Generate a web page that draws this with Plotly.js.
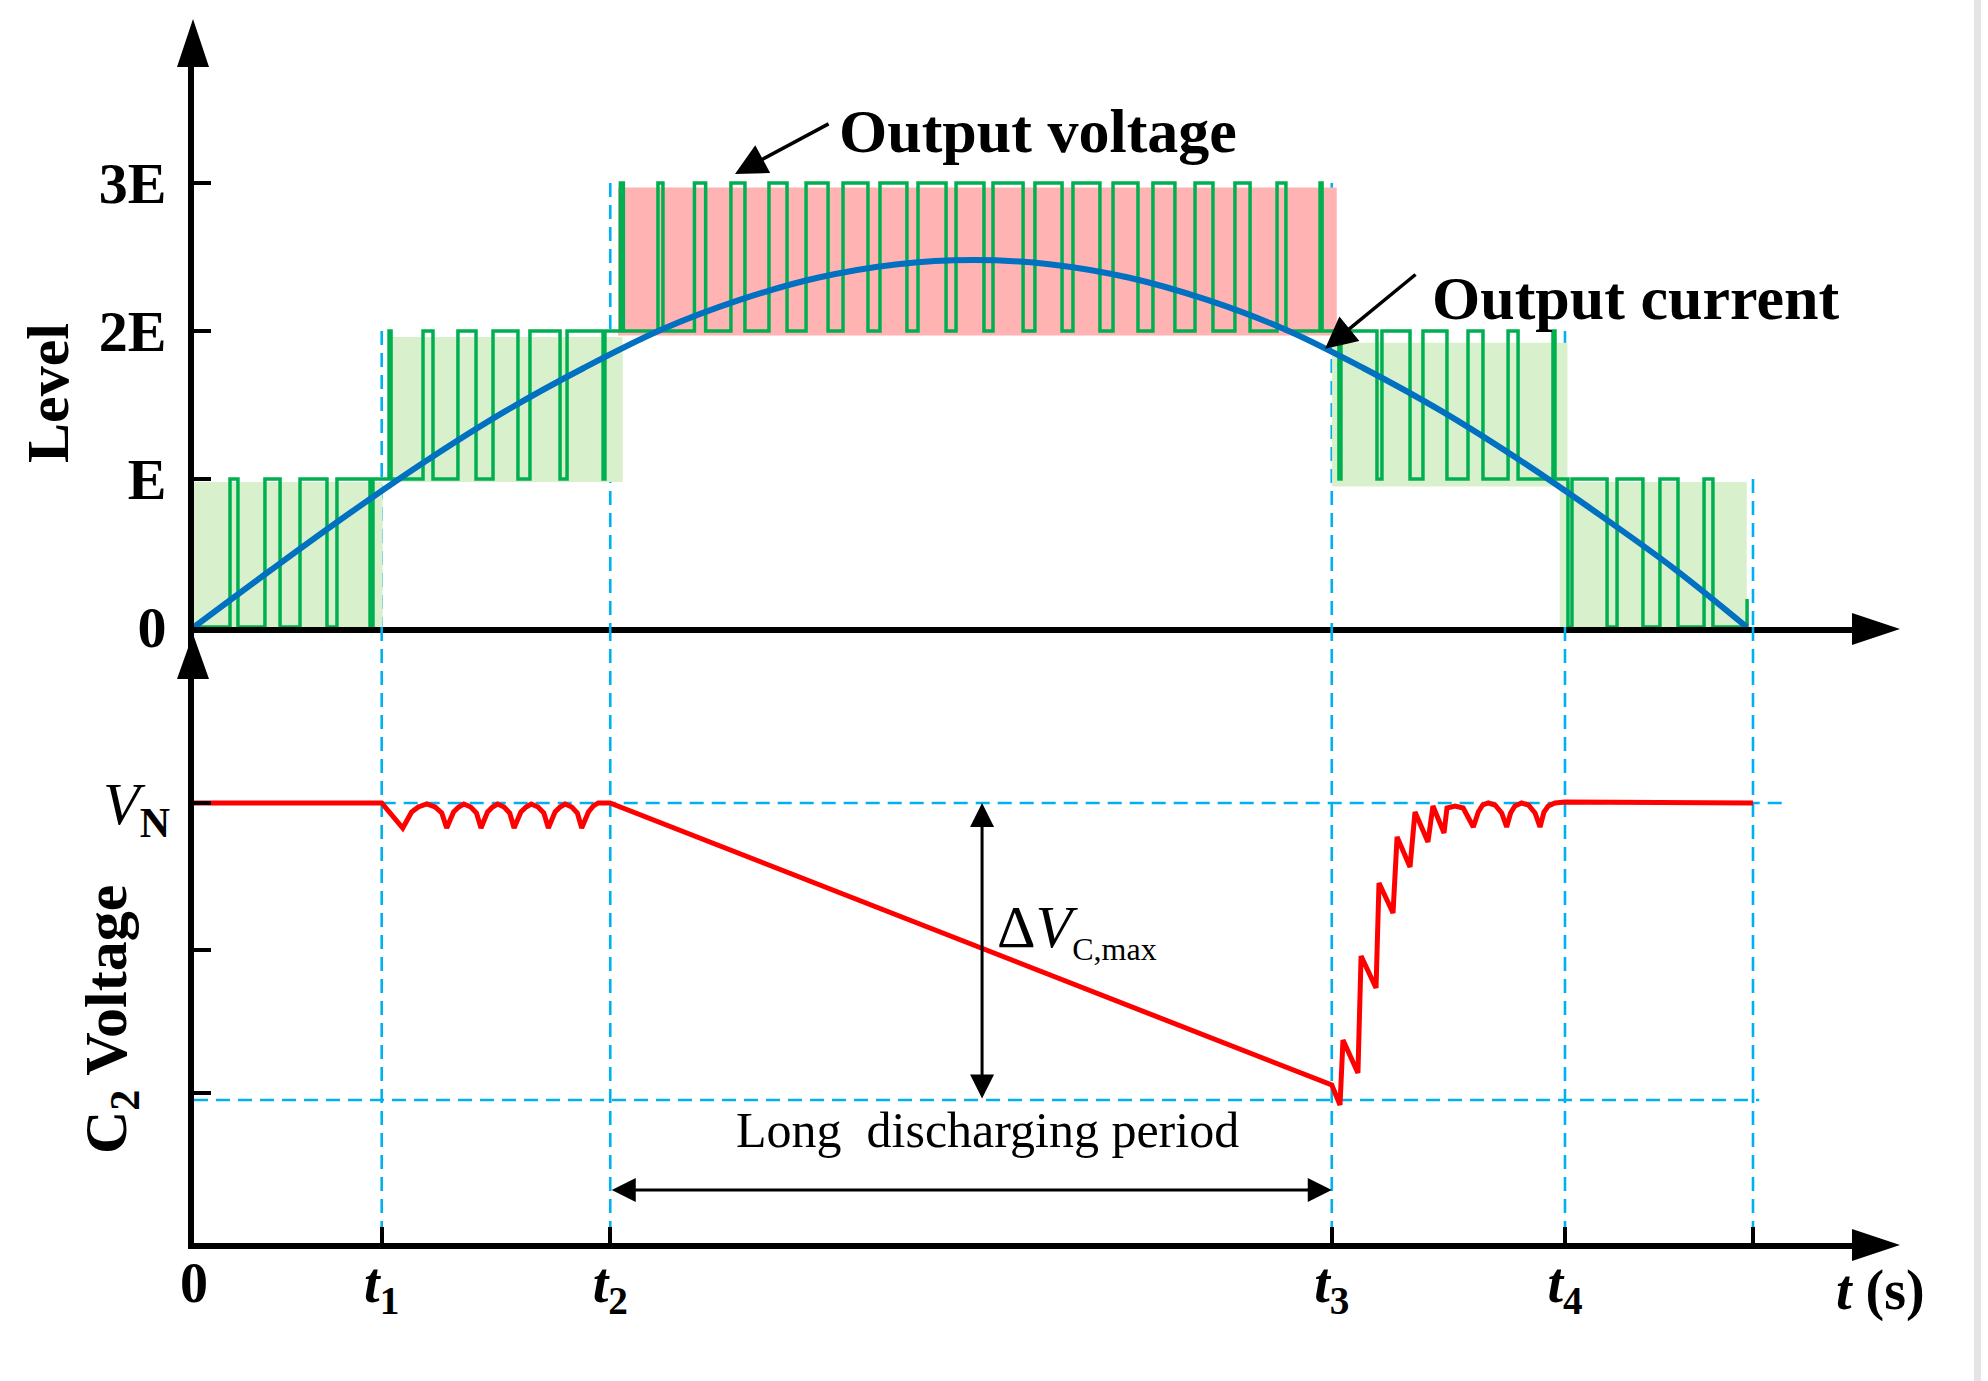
<!DOCTYPE html>
<html>
<head>
<meta charset="utf-8">
<script src="https://cdn.plot.ly/plotly-3.0.1.min.js"></script>
<style>
  html, body { margin: 0; padding: 0; background: #fff; }
</style>
</head>
<body>
<div id="plot"></div>
<script>
// ---- values (time in units where the half cycle ends at 10) ----
const LEVEL_TICKS = [0, 1, 2, 3];
const LEVEL_LABELS = ['0', 'E', '2E', '3E'];

const TIME_MARKS = [0, 1.204, 2.670, 7.298, 8.794, 10.0];
const TIME_LABELS = ['0', '<i>t</i><sub>1</sub>', '<i>t</i><sub>2</sub>',
                     '<i>t</i><sub>3</sub>', '<i>t</i><sub>4</sub>', ''];
// level where each dashed guide (t1..t5) starts in the upper panel
const GUIDE_TOP = [2, 3, 3, 2, 1];

// output voltage (PWM), switching instants and the level after each switch
const VOLT_T = [0, 0.231, 0.282, 0.455, 0.552, 0.680, 0.853, 0.917, 1.129, 1.148,
  1.251, 1.264, 1.469, 1.533, 1.693, 1.809, 1.918, 2.078, 2.155, 2.348, 2.393, 2.624, 2.636,
  2.735, 2.754, 2.976, 3.008, 3.210, 3.282, 3.444, 3.534, 3.688, 3.804, 3.926, 4.067,
  4.163, 4.323, 4.400, 4.573, 4.644, 4.824, 4.888, 5.067, 5.125, 5.318, 5.394, 5.568,
  5.638, 5.811, 5.895, 6.055, 6.151, 6.292, 6.421, 6.536, 6.677, 6.774, 6.947, 7.004,
  7.223, 7.236, 7.344, 7.357, 7.588, 7.620, 7.800, 7.883, 8.037, 8.172, 8.268, 8.429,
  8.493, 8.717, 8.730, 8.813, 8.839, 9.064, 9.128, 9.294, 9.403, 9.519, 9.686, 9.743, 9.962];
const VOLT_LEVEL = [0, 1, 0, 1, 0, 1, 0, 1, 0, 1,
  2, 1, 2, 1, 2, 1, 2, 1, 2, 1, 2, 1, 2,
  3, 2, 3, 2, 3, 2, 3, 2, 3, 2, 3, 2,
  3, 2, 3, 2, 3, 2, 3, 2, 3, 2, 3, 2,
  3, 2, 3, 2, 3, 2, 3, 2, 3, 2, 3, 2,
  3, 2, 1, 2, 1, 2, 1, 2, 1, 2, 1, 2,
  1, 2, 1, 0, 1, 0, 1, 0, 1, 0, 1, 0, 0.19];

// shaded level bands behind the PWM waveform
const BLOCK_START = [0, 1.26, 2.72, 7.30, 8.76];
const BLOCK_END = [1.21, 2.75, 7.33, 8.81, 9.96];
const BLOCK_LOW = [0, 0.98, 1.97, 0.95, 0];
const BLOCK_HIGH = [0.98, 1.96, 2.97, 1.92, 0.98];
const BLOCK_KIND = ['green', 'green', 'red', 'green', 'green'];

// output current
const CURRENT_T = [0, 0.5, 1, 1.5, 2, 2.5, 3, 3.5, 4, 4.5, 5, 5.5, 6, 6.5, 7, 7.5, 8, 8.5, 9, 9.5, 9.96];
const CURRENT_LEVEL = [0, 0.39, 0.77, 1.13, 1.46, 1.75, 2.01, 2.21, 2.36, 2.45, 2.48,
  2.45, 2.36, 2.21, 2.01, 1.75, 1.46, 1.13, 0.77, 0.39, 0];

// C2 voltage
const CAP_T = [0, 1.204, 1.339, 1.396, 1.439, 1.493, 1.546, 1.589, 1.621, 1.665, 1.698,
  1.731, 1.775, 1.812, 1.841, 1.883, 1.915, 1.947, 1.989, 2.025, 2.053, 2.097, 2.130,
  2.163, 2.207, 2.244, 2.273, 2.316, 2.348, 2.380, 2.423, 2.459, 2.487, 2.530, 2.562,
  2.593, 2.668, 7.298, 7.351, 7.370, 7.466, 7.486, 7.582, 7.601, 7.691, 7.717, 7.800,
  7.832, 7.915, 7.947, 8.018, 8.037, 8.088, 8.141, 8.206, 8.238, 8.266, 8.302, 8.345,
  8.388, 8.420, 8.445, 8.473, 8.516, 8.559, 8.602, 8.634, 8.659, 8.687, 8.730, 8.794, 10.0];
const CAP_V = [4.40, 4.40, 4.15, 4.31, 4.36, 4.39, 4.36, 4.30, 4.15, 4.31, 4.36,
  4.39, 4.36, 4.30, 4.15, 4.31, 4.36, 4.39, 4.36, 4.30, 4.15, 4.31, 4.36,
  4.39, 4.36, 4.30, 4.15, 4.31, 4.36, 4.39, 4.36, 4.30, 4.15, 4.31, 4.37,
  4.40, 4.40, 1.58, 1.38, 2.03, 1.70, 2.87, 2.55, 3.60, 3.30, 4.06, 3.76,
  4.31, 4.01, 4.37, 4.10, 4.35, 4.37, 4.35, 4.16, 4.31, 4.38, 4.40, 4.38,
  4.30, 4.16, 4.30, 4.37, 4.40, 4.38, 4.30, 4.16, 4.31, 4.37, 4.40, 4.41, 4.40];
const CAP_TICKS = [1.50, 2.93, 4.40];
const CAP_NOMINAL = 4.40;
const CAP_MIN = 1.43;
const DELTA_AT = 5.055;       // time of the ΔV arrow
const DISCHARGE_Y = 0.53;     // height of the discharging-period arrow

// ---- page geometry ----
const W = 1988, H = 1381;
const X0_PX = 194, XEND_PX = 1860, PX_PER_T = 155.9;
const TOP_ZERO_PX = 627, TOP_END_PX = 50, PX_PER_LEVEL = 148;
const BOT_ZERO_PX = 1243, PX_PER_V = 100;

const SERIF = 'Liberation Serif, Times New Roman, serif';
const GREEN = '#00B050', BLUE = '#0070C0', RED = '#FF0000', CYAN = '#00B0F0';
const FILL = {green: '#D9F0CD', red: '#FFB3B3'};

const px = x => x / W;
const py = y => 1 - y / H;

// Filled triangle used for the axis arrow tips (pixel geometry -> paper)
function ArrowTip(tipX, tipY, dir, len, half) {
  let pts;
  if (dir === 'up') {
    pts = [[tipX, tipY], [tipX - half, tipY + len], [tipX + half, tipY + len]];
  } else {
    pts = [[tipX, tipY], [tipX - len, tipY - half], [tipX - len, tipY + half]];
  }
  return {
    type: 'path', xref: 'paper', yref: 'paper', layer: 'above',
    path: 'M' + pts.map(p => px(p[0]) + ',' + py(p[1])).join('L') + 'Z',
    fillcolor: 'black', line: {width: 0},
  };
}

function BlockTrace(i) {
  const x0 = BLOCK_START[i], x1 = BLOCK_END[i];
  const lo = BLOCK_LOW[i], hi = BLOCK_HIGH[i];
  return {
    x: [x0, x1, x1, x0, x0], y: [lo, lo, hi, hi, lo],
    xaxis: 'x', yaxis: 'y', mode: 'lines', fill: 'toself',
    fillcolor: FILL[BLOCK_KIND[i]], line: {width: 0}, hoverinfo: 'skip',
  };
}

function DashedLine(xref, yref, x0, y0, x1, y1) {
  return {
    type: 'line', xref: xref, yref: yref, x0: x0, y0: y0, x1: x1, y1: y1,
    layer: 'below', line: {color: CYAN, width: 2.6, dash: '14px,8px'},
  };
}

// Text placed on the page itself, centred on a pixel position
function PageLabel(xPx, yPx, text, font, angle) {
  return {
    xref: 'paper', yref: 'paper', x: px(xPx), y: py(yPx),
    xanchor: 'center', yanchor: 'middle', text: text, textangle: angle || 0,
    showarrow: false, font: font,
  };
}

function BuildPlot() {
  const xMax = (XEND_PX - X0_PX) / PX_PER_T;
  const topMax = (TOP_ZERO_PX - TOP_END_PX) / PX_PER_LEVEL;
  const botMax = (BOT_ZERO_PX - TOP_ZERO_PX) / PX_PER_V;

  let traces = [];
  for (let i = 0; i < BLOCK_START.length; ++i) traces.push(BlockTrace(i));

  traces.push({
    x: VOLT_T, y: VOLT_LEVEL, xaxis: 'x', yaxis: 'y', mode: 'lines',
    line: {color: GREEN, width: 3.5, shape: 'hv'}, hoverinfo: 'skip',
  });
  traces.push({
    x: CURRENT_T, y: CURRENT_LEVEL, xaxis: 'x', yaxis: 'y', mode: 'lines',
    line: {color: BLUE, width: 6, shape: 'spline'}, hoverinfo: 'skip',
  });
  traces.push({
    x: CAP_T, y: CAP_V, xaxis: 'x2', yaxis: 'y2', mode: 'lines',
    line: {color: RED, width: 5}, hoverinfo: 'skip',
  });

  // dashed guides at t1..t5 running through both panels
  let shapes = [];
  for (let i = 0; i < GUIDE_TOP.length; ++i) {
    const t = TIME_MARKS[i + 1];
    shapes.push(DashedLine('x', 'y', t, GUIDE_TOP[i], t, 0));
    shapes.push(DashedLine('x2', 'y2', t, botMax, t, 0));
  }
  shapes.push(DashedLine('x2', 'y2', TIME_MARKS[1], CAP_NOMINAL, 10.22, CAP_NOMINAL));
  shapes.push(DashedLine('x2', 'y2', 0, CAP_MIN, 10.04, CAP_MIN));

  // axis arrow tips
  shapes.push(ArrowTip(193, 19, 'up', 48, 16));
  shapes.push(ArrowTip(1900, 629, 'right', 48, 16));
  shapes.push(ArrowTip(193, 634, 'up', 45, 16));
  shapes.push(ArrowTip(1900, 1245, 'right', 48, 16));
  // thin grey page edge seen at the right of the original
  shapes.push({type: 'rect', xref: 'paper', yref: 'paper', x0: px(1974), x1: px(1981),
               y0: 0, y1: 1, fillcolor: '#e4e4e4', line: {width: 0}, layer: 'below'});

  const bold60 = {family: SERIF, size: 60, color: 'black', weight: 'bold'};
  const bold62 = {family: SERIF, size: 62, color: 'black', weight: 'bold'};
  let annotations = [
    // axis titles
    PageLabel(48, 393, 'Level', bold60, -90),
    PageLabel(110, 1020, 'C<sub>2</sub> Voltage', bold60, -90),
    PageLabel(1880, 1290, '<i>t</i> (s)', {family: SERIF, size: 56, color: 'black', weight: 'bold'}),
    // callouts in the upper panel
    {xref: 'x', yref: 'y', x: 4.125, y: 3.35, xanchor: 'left', yanchor: 'middle',
     text: 'Output voltage', showarrow: false, font: bold62},
    {xref: 'x', yref: 'y', x: 3.47, y: 3.06, ax: 4.08, ay: 3.405, axref: 'x', ayref: 'y',
     text: '', showarrow: true, arrowhead: 2, arrowsize: 1.8, arrowwidth: 3.5, arrowcolor: 'black'},
    {xref: 'x', yref: 'y', x: 7.928, y: 2.22, xanchor: 'left', yanchor: 'middle',
     text: 'Output current', showarrow: false, font: bold62},
    {xref: 'x', yref: 'y', x: 7.255, y: 1.88, ax: 7.845, ay: 2.39, axref: 'x', ayref: 'y',
     text: '', showarrow: true, arrowhead: 2, arrowsize: 1.8, arrowwidth: 3.5, arrowcolor: 'black'},
    // lower panel
    {xref: 'x2', yref: 'y2', x: DELTA_AT, y: CAP_NOMINAL, ax: DELTA_AT, ay: CAP_MIN,
     axref: 'x2', ayref: 'y2', text: '', showarrow: true, arrowside: 'end+start',
     arrowhead: 2, startarrowhead: 2, arrowsize: 1.6, startarrowsize: 1.6, arrowwidth: 3,
     arrowcolor: 'black'},
    {xref: 'x2', yref: 'y2', x: 5.138, y: 3.13, xanchor: 'left', yanchor: 'middle',
     text: 'Δ<i>V</i><sub><span style="font-size:32px">C,max</span></sub>', showarrow: false,
     font: {family: SERIF, size: 60, color: 'black'}},
    {xref: 'x2', yref: 'y2', x: 5.087, y: 1.13, xanchor: 'center', yanchor: 'middle',
     text: 'Long\u00a0\u00a0discharging period',
     showarrow: false, font: {family: SERIF, size: 50, color: 'black'}},
    {xref: 'x2', yref: 'y2', x: TIME_MARKS[3], y: DISCHARGE_Y, ax: TIME_MARKS[2], ay: DISCHARGE_Y,
     axref: 'x2', ayref: 'y2', text: '', showarrow: true, arrowside: 'end+start',
     arrowhead: 2, startarrowhead: 2, arrowsize: 1.6, startarrowsize: 1.6, arrowwidth: 3,
     arrowcolor: 'black'},
  ];

  const baseAxis = {
    showline: true, linewidth: 6, linecolor: 'black', showgrid: false, zeroline: false,
    fixedrange: true, tickcolor: 'black', tickwidth: 4,
  };

  const layout = {
    width: W, height: H,
    margin: {l: 0, r: 0, t: 0, b: 0},
    paper_bgcolor: 'white', plot_bgcolor: 'rgba(0,0,0,0)',
    showlegend: false,
    xaxis: Object.assign({}, baseAxis, {
      domain: [px(X0_PX), px(XEND_PX)], range: [0, xMax], anchor: 'y',
      ticks: '', showticklabels: false,
    }),
    yaxis: Object.assign({}, baseAxis, {
      domain: [py(TOP_ZERO_PX), py(TOP_END_PX)], range: [0, topMax], anchor: 'x',
      ticks: 'inside', ticklen: 17,
      tickvals: LEVEL_TICKS, ticktext: LEVEL_LABELS, ticklabelstandoff: 10,
      tickfont: {family: SERIF, size: 58, color: 'black', weight: 'bold'},
    }),
    xaxis2: Object.assign({}, baseAxis, {
      domain: [px(X0_PX), px(XEND_PX)], range: [0, xMax], anchor: 'y2',
      ticks: 'inside', ticklen: 16,
      tickvals: TIME_MARKS, ticktext: TIME_LABELS, ticklabelstandoff: -14,
      tickfont: {family: SERIF, size: 56, color: 'black', weight: 'bold'},
    }),
    yaxis2: Object.assign({}, baseAxis, {
      domain: [py(BOT_ZERO_PX), py(TOP_ZERO_PX)], range: [0, botMax], anchor: 'x2',
      ticks: 'inside', ticklen: 17,
      tickvals: CAP_TICKS, ticktext: ['', '', '<i>V</i><sub><b>N</b></sub>'],
      ticklabelstandoff: 6,
      tickfont: {family: SERIF, size: 60, color: 'black'},
    }),
    shapes: shapes,
    annotations: annotations,
  };

  Plotly.newPlot('plot', traces, layout, {displayModeBar: false, staticPlot: true});
}

BuildPlot();
</script>
</body>
</html>
